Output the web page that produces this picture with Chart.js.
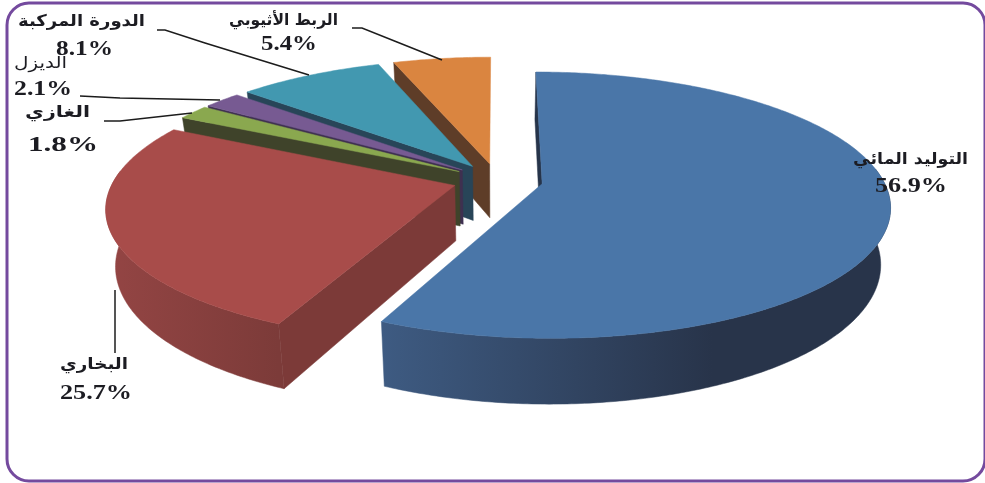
<!DOCTYPE html>
<html lang="ar"><head><meta charset="utf-8">
<style>html,body{margin:0;padding:0;background:#fff}canvas{display:block}</style>
<script src="https://cdn.jsdelivr.net/npm/chart.js@4"></script></head>
<body><canvas id="c" width="985" height="483"></canvas>
<script>
const categories = ["التوليد المائي","البخاري","الغازي","الديزل","الدورة المركبة","الربط الأثيوبي"];
const shares = [56.9,25.7,1.8,2.1,8.1,5.4];
const topColors = ["#4A76A8","#A84C4A","#8AA84F","#775A92","#4298B0","#DA8540"];
const sideColors = ["#26344A","#7C3A38","#3F432A","#3F3050","#284558","#5E3D28"];
const rimFrom = ["#3E5B82","#944544","#3F432A","#3F3050","#284558","#5E3D28"];
const rimTo = ["#28344A","#7C3B39","#3F432A","#3F3050","#284558","#5E3D28"];
const explode = [0.135,0.13,0.13,0.13,0.13,0.13];
const labelBoxes = [
 [853,968,164,875,947,192,true],[60,128,369,60,132,399,true],[25,90,117,28,98,151,true],
 [14,67,68,14,72,95,false],[18,145,26,56,113,55,true],[229,338,25,261,317,50,true]];
const leaders = [null,[[115,290],[115,353]],[[104,121],[120,121],[192,113]],
 [[80,96],[120,98],[220,100]],[[157,30],[165,30],[205,43],[309,75]],[[352,28],[362,28],[397,42],[442,60]]];
const cam = {rx:341, ry:128.5, p:0.16, cy:180, depth:55, shrink:0.975};

function project(cx,u,v,low){
  const w=1-cam.p*v;
  let x=cx+cam.rx*u/w, y=cam.cy+cam.ry*v/w;
  if(low){x=cx+(x-cx)*cam.shrink; y+=cam.depth/w;}
  return [x,y];
}
function poly(ctx,pts,fill){
  ctx.beginPath(); pts.forEach((p,i)=>i?ctx.lineTo(p[0],p[1]):ctx.moveTo(p[0],p[1]));
  ctx.closePath(); ctx.fillStyle=fill; ctx.fill();
  ctx.strokeStyle=fill; ctx.lineWidth=0.5; ctx.stroke();
}
function fitText(ctx,str,x0,x1,base,font,dir){
  ctx.save(); ctx.font=font; ctx.direction=dir; ctx.textAlign='center'; ctx.textBaseline='alphabetic';
  const m=ctx.measureText(str).width, s=(x1-x0)/m;
  ctx.translate((x0+x1)/2,base); ctx.scale(s,1); ctx.fillStyle='#1c1c22'; ctx.fillText(str,0,0); ctx.restore();
}
const pie3d = {
  id:'pie3d',
  beforeDatasetDraw(chart,args){
    const ctx=chart.ctx, arcs=chart.getDatasetMeta(args.index).data;
    [5,4,3,2,1,0].forEach(i=>{
      const a=arcs[i], a0=a.startAngle, a1=a.endAngle, mid=(a0+a1)/2, cx=a.x;
      const off=explode[i], ou=off*Math.cos(mid), ov=off*Math.sin(mid);
      const at=(t,low)=>project(cx,ou+Math.cos(t),ov+Math.sin(t),low);
      const apex=l=>project(cx,ou,ov,l);
      poly(ctx,[apex(false),at(a0,false),at(a0,true),apex(true)],sideColors[i]);
      const n=Math.max(8,Math.ceil((a1-a0)*90)), topEdge=[], rimTop=[], rimLow=[];
      for(let k=0;k<=n;k++){
        const t=a0+(a1-a0)*k/n; topEdge.push(at(t,false));
        if(Math.sin(t)>-0.12){rimTop.push(at(t,false)); rimLow.push(at(t,true));}
      }
      if(rimTop.length>1){
        const xs=rimTop.map(p=>p[0]), g=ctx.createLinearGradient(Math.min(...xs),0,Math.max(...xs),0);
        g.addColorStop(0,rimFrom[i]); g.addColorStop(i===0?0.65:1,rimTo[i]); g.addColorStop(1,rimTo[i]);
        poly(ctx,rimTop.concat(rimLow.reverse()),g);
      }
      poly(ctx,[apex(false)].concat(topEdge),topColors[i]);
    });
    return false;
  },
  afterDraw(chart){
    const ctx=chart.ctx;
    ctx.save();
    ctx.strokeStyle='#744A9E'; ctx.lineWidth=3;
    ctx.beginPath(); ctx.roundRect(7,3,978,478,22); ctx.stroke();
    ctx.strokeStyle='#1c1c1c'; ctx.lineWidth=1.5;
    leaders.forEach(l=>{ if(!l) return; ctx.beginPath(); l.forEach((p,i)=>i?ctx.lineTo(p[0],p[1]):ctx.moveTo(p[0],p[1])); ctx.stroke(); });
    categories.forEach((c,i)=>{
      const b=labelBoxes[i];
      fitText(ctx,c,b[0],b[1],b[2],(b[6]?'bold ':'')+'16px "DejaVu Sans"','rtl');
      fitText(ctx,shares[i].toFixed(1)+'%',b[3],b[4],b[5],'bold 22px "Liberation Serif"','ltr');
    });
    ctx.restore();
  }
};
new Chart(document.getElementById('c'),{
  type:'pie',
  data:{labels:categories,datasets:[{data:shares,backgroundColor:topColors,borderWidth:0}]},
  options:{responsive:false,animation:false,layout:{padding:{left:9}},
    plugins:{legend:{display:false},tooltip:{enabled:false}}},
  plugins:[pie3d]
});
</script></body></html>
